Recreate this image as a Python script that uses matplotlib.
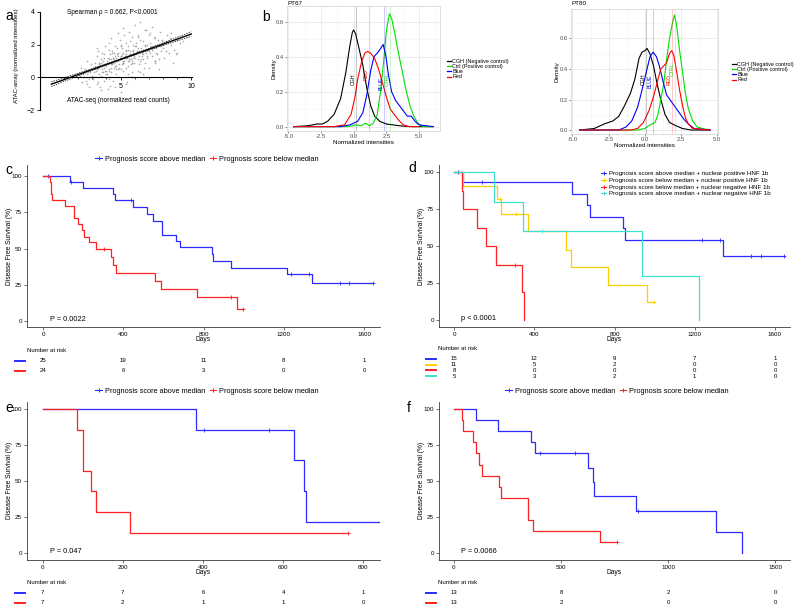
import numpy as np
import matplotlib
matplotlib.use('Agg')
import matplotlib.pyplot as plt
from matplotlib.lines import Line2D
from matplotlib.ticker import MultipleLocator, FixedLocator
import matplotlib.transforms as mtrans

plt.rcParams['font.family'] = ['Liberation Sans', 'DejaVu Sans']

# ---------------- data ----------------
# panel a: scatter (ATAC-seq vs ATAC-array)
sx = [2.1,2.3,2.5,2.6,2.8,2.9,2.4,2.7,2.2,2.95,2.55,2.85,2.65,2.35,2.75,
      3.1,3.2,3.3,3.4,3.5,3.6,3.7,3.8,3.9,3.15,3.25,3.35,3.45,3.55,3.65,3.75,3.85,3.95,3.05,3.3,3.5,3.7,3.9,3.2,3.6,3.4,3.8,3.1,3.45,3.75,
      4.0,4.1,4.2,4.3,4.4,4.5,4.6,4.7,4.8,4.9,4.05,4.15,4.25,4.35,4.45,4.55,4.65,4.75,4.85,4.95,4.1,4.3,4.5,4.7,4.9,4.2,4.4,4.6,4.8,4.0,4.35,4.55,4.75,4.15,4.65,4.25,4.85,4.45,4.05,4.95,
      5.0,5.1,5.2,5.3,5.4,5.5,5.6,5.7,5.8,5.9,5.05,5.15,5.25,5.35,5.45,5.55,5.65,5.75,5.85,5.95,5.1,5.3,5.5,5.7,5.9,5.2,5.4,5.6,5.8,5.0,5.35,5.55,5.75,5.15,5.65,5.25,5.85,5.45,5.05,5.95,
      6.0,6.1,6.2,6.3,6.4,6.5,6.6,6.7,6.8,6.9,6.05,6.15,6.25,6.35,6.45,6.55,6.65,6.75,6.85,6.95,6.1,6.3,6.5,6.7,6.9,6.2,6.4,6.6,6.8,6.45,
      7.0,7.1,7.2,7.3,7.4,7.5,7.6,7.7,7.8,7.9,7.05,7.25,7.45,7.65,7.85,7.15,7.35,7.55,7.75,7.95,
      8.0,8.2,8.4,8.6,8.8,9.0,9.2,8.1,8.5,8.9,8.3,8.7,
      3.3,3.6,3.9,4.1,4.3,4.6,4.8,5.0,5.2,5.4,5.6,5.8,6.0,6.2,6.4,6.6,6.8,7.0,7.2,7.4,
      4.2,4.4,4.6,4.8,5.0,5.2,5.4,5.6,5.8,6.0,4.3,4.7,5.1,5.5,5.9,6.3,6.7,7.1,7.5,7.9,
      2.6,3.0,3.4,3.8,4.2,4.6,5.0,5.4,5.8,6.2,6.6,7.0,7.4,7.8,8.2,8.6,9.0,9.4,3.6,4.4]
sy = [0.1,-0.3,0.5,0.2,-0.6,0.8,0.0,0.4,0.6,0.1,-0.2,0.3,1.0,0.2,-0.1,
      0.3,0.9,-0.4,0.6,0.2,1.1,0.5,-0.2,0.8,0.0,0.4,1.3,0.7,-0.6,0.3,1.0,0.6,0.2,-0.1,0.5,0.9,1.5,0.4,0.7,0.1,-0.3,1.2,0.6,0.8,0.3,
      0.7,1.2,0.4,0.9,1.6,0.6,1.0,0.2,1.3,0.8,1.0,0.5,1.4,0.8,-0.2,1.1,0.7,1.8,0.5,1.2,0.9,0.3,1.5,1.0,0.6,2.1,0.8,1.3,0.0,0.4,1.1,0.9,1.4,1.7,0.5,-0.5,1.0,1.2,0.2,2.3,
      1.1,0.8,1.5,1.2,0.6,1.9,1.0,1.4,0.9,1.6,1.3,0.4,1.0,1.7,1.2,0.7,2.2,1.1,1.5,0.9,1.8,1.3,0.2,1.6,2.0,0.9,1.4,1.1,2.5,0.5,1.2,1.7,0.8,1.0,1.4,2.6,1.2,-0.3,1.9,1.3,
      1.4,1.9,1.1,1.6,2.3,1.3,1.7,0.9,1.5,2.0,1.2,1.6,2.6,1.0,1.8,1.4,0.6,1.9,1.3,1.7,2.1,0.8,1.5,2.9,1.2,1.8,0.3,2.2,1.6,1.1,
      1.6,2.1,1.3,1.8,2.4,1.5,2.0,1.1,1.9,2.2,2.7,1.7,0.9,2.3,1.6,1.9,2.5,1.4,0.5,2.0,
      1.8,2.2,1.5,2.0,1.7,2.3,2.1,1.2,2.4,1.4,2.6,0.9,
      1.8,-0.8,1.9,-0.7,2.4,-0.6,2.7,-0.9,3.0,-0.4,2.8,0.0,3.2,0.4,3.4,0.2,2.9,0.6,3.1,1.0,
      1.1,0.9,0.7,1.5,1.3,0.9,1.6,1.3,1.0,1.9,0.6,1.2,1.4,1.0,1.7,1.3,2.0,1.5,1.8,2.3,
      -0.4,0.0,1.6,1.4,-0.1,1.9,2.0,2.1,0.3,2.5,1.1,2.6,1.0,2.8,1.6,2.7,1.5,2.2,0.9,1.5]
fit_x = [0.1, 10.0]
fit_y = [-0.42, 2.65]
ci_x = [0.1, 2.5, 5.0, 7.5, 10.0]
ci_hi = [-0.28, 0.39, 1.13, 1.94, 2.79]
ci_lo = [-0.56, 0.26, 1.07, 1.81, 2.51]

# panel b: densities
b_names = ['CGH (Negative control)', 'Ctrl (Positive control)', 'Blue', 'Red']
b_colors = ['black', '#00E000', '#0000FF', '#FF0000']
cgh67_x = [-4.6,-3.5,-2.8,-2.4,-2.0,-1.5,-1.0,-0.6,-0.3,-0.1,0.0,0.15,0.4,0.7,1.0,1.3,1.6,2.0,2.5,3.0,3.5,4.0,4.5,5.0,6.0]
cgh67_y = [0.0,0.005,0.015,0.015,0.03,0.07,0.16,0.31,0.46,0.54,0.553,0.53,0.45,0.35,0.22,0.12,0.06,0.03,0.015,0.01,0.005,0.002,0.0,0.0,0.0]
red67_x = [-4.6,-1.5,-0.7,-0.2,0.1,0.3,0.6,0.85,1.05,1.3,1.6,1.9,2.2,2.5,2.8,3.1,3.4,3.8,4.2,5.0]
red67_y = [0.0,0.0,0.01,0.07,0.17,0.27,0.37,0.42,0.43,0.42,0.39,0.33,0.25,0.17,0.10,0.07,0.04,0.01,0.0,0.0]
blue67_x = [-4.6,-1.0,-0.3,0.3,0.7,1.0,1.3,1.55,1.8,2.0,2.25,2.45,2.65,2.9,3.2,3.5,3.8,4.1,4.4,4.7,5.0,6.1]
blue67_y = [0.0,0.0,0.01,0.03,0.08,0.18,0.32,0.40,0.42,0.44,0.47,0.41,0.3,0.2,0.15,0.12,0.09,0.06,0.06,0.03,0.01,0.0]
ctrl67_x = [-4.6,-0.5,0.2,0.6,0.9,1.2,1.5,1.8,2.05,2.3,2.5,2.73,2.9,3.1,3.4,3.7,4.0,4.3,4.6,4.9,5.3,6.1]
ctrl67_y = [0.0,0.0,0.01,0.005,0.02,0.005,0.02,0.07,0.2,0.38,0.55,0.645,0.62,0.55,0.43,0.32,0.21,0.12,0.06,0.02,0.0,0.0]
vl67 = [0.15, 2.75, 2.3, 1.15]
lab67_y = [0.27, 0.27, 0.25, 0.3]

cgh80_x = [-4.5,-3.5,-2.8,-2.2,-1.8,-1.4,-1.0,-0.7,-0.4,-0.2,0.0,0.15,0.35,0.6,0.85,1.1,1.4,1.7,2.1,2.6,3.2,4.5]
cgh80_y = [0.0,0.01,0.04,0.06,0.09,0.16,0.24,0.33,0.47,0.51,0.52,0.535,0.5,0.42,0.3,0.2,0.1,0.05,0.03,0.01,0.0,0.0]
blue80_x = [-4.5,-1.8,-1.3,-0.9,-0.5,-0.2,0.1,0.35,0.57,0.8,1.0,1.25,1.5,1.8,2.1,2.4,2.7,3.0,3.4,4.5]
blue80_y = [0.0,0.0,0.02,0.06,0.15,0.26,0.38,0.48,0.51,0.48,0.42,0.32,0.23,0.19,0.15,0.11,0.07,0.04,0.01,0.0]
red80_x = [-4.5,-1.0,-0.5,-0.1,0.3,0.6,0.9,1.1,1.3,1.5,1.7,1.85,2.0,2.2,2.4,2.6,2.8,3.0,3.3,4.5]
red80_y = [0.0,0.0,0.01,0.05,0.13,0.22,0.33,0.4,0.42,0.44,0.5,0.52,0.49,0.38,0.26,0.16,0.08,0.04,0.01,0.0]
ctrl80_x = [-4.5,-1.5,-0.5,0.0,0.3,0.5,0.7,0.9,1.1,1.3,1.5,1.7,1.9,2.05,2.2,2.4,2.6,2.8,3.0,3.3,3.6,4.0,4.5]
ctrl80_y = [0.0,0.0,0.0,0.01,0.03,0.04,0.05,0.1,0.2,0.3,0.46,0.6,0.7,0.754,0.68,0.52,0.38,0.24,0.14,0.06,0.02,0.01,0.0]
vl80 = [0.05, 2.08, 0.57, 1.85]
lab80_y = [0.33, 0.4, 0.32, 0.33]
b_tags = ['CGH', 'CTRL', 'BLUE', 'RED']

# panel c
c_blue_t = [0, 134, 198, 347, 360, 447, 516, 546, 594, 662, 682, 843, 848, 936, 1217, 1341, 1645]
c_blue_s = [100, 95.8, 91.7, 87.5, 83.3, 78.6, 73.7, 68.8, 59.6, 55.0, 50.9, 46.2, 41.5, 36.9, 32.3, 25.9, 25.9]
c_blue_ct = [23, 140, 437, 1236, 1326, 1479, 1524, 1645]
c_blue_cs = [100, 95.8, 83.3, 32.3, 32.3, 25.9, 25.9, 25.9]
c_red_t = [0, 35, 42, 47, 110, 154, 174, 195, 204, 231, 264, 337, 347, 364, 560, 586, 769, 965, 995]
c_red_s = [100, 95.8, 87.5, 83.3, 79.2, 70.8, 66.7, 62.5, 58.3, 54.2, 50.0, 44.4, 38.9, 33.3, 27.8, 22.2, 16.7, 8.3, 8.3]
c_red_ct = [304, 936, 995]
c_red_cs = [50.0, 16.7, 8.3]
c_risk_t = [0, 400, 800, 1200, 1600]
c_risk = [[25, 19, 11, 8, 1], [24, 6, 3, 0, 0]]

# panel d
d_labels = ['Prognosis score above median + nuclear positive HNF 1b',
            'Prognosis score below median + nuclear positive HNF 1b',
            'Prognosis score below median + nuclear negative HNF 1b',
            'Prognosis score above median + nuclear negative HNF 1b']
d_colors = ['#2B2BFF', '#FFCC00', '#FF2020', '#40E0D0']
d_t = [[0, 43, 590, 665, 680, 844, 852, 1343, 1647],
       [0, 43, 213, 234, 367, 558, 585, 770, 964, 997],
       [0, 38, 47, 115, 160, 208, 339, 351],
       [0, 198, 346, 939, 1222]]
d_s = [[100, 93.3, 85.5, 77.7, 69.9, 62.1, 54.4, 43.5, 43.5],
       [100, 90.9, 81.8, 71.6, 60.0, 47.7, 35.7, 23.9, 11.9, 11.9],
       [100, 87.5, 75.0, 62.5, 50.0, 37.5, 18.75, 0],
       [100, 80, 60, 30, 0]]
d_ct = [[21, 141, 1235, 1326, 1481, 1529, 1647], [229, 309, 997], [304], [437]]
d_cs = [[100, 93.3, 54.4, 54.4, 43.5, 43.5, 43.5], [81.8, 71.6, 11.9], [37.5], [60]]
d_risk_t = [0, 400, 800, 1200, 1600]
d_risk = [[15, 12, 9, 7, 1], [11, 5, 2, 0, 0], [8, 0, 0, 0, 0], [5, 3, 2, 1, 0]]

# panel e
e_blue_t = [0, 383, 627, 652, 657, 860]
e_blue_s = [100, 85.7, 64.3, 42.9, 21.4, 21.4]
e_blue_ct = [403, 564]
e_blue_cs = [85.7, 85.7]
e_red_t = [0, 87, 100, 120, 133, 219, 762]
e_red_s = [100, 85.7, 57.1, 42.9, 28.6, 14.3, 14.3]
e_red_ct = [762]
e_red_cs = [14.3]
e_risk_t = [0, 200, 400, 600, 800]
e_risk = [[7, 7, 6, 4, 1], [7, 2, 1, 1, 0]]

# panel f
f_blue_t = [0, 103, 208, 361, 380, 627, 650, 656, 850, 1225, 1345]
f_blue_s = [100, 92.3, 84.6, 76.9, 69.2, 59.3, 49.4, 39.5, 29.6, 14.8, 0]
f_blue_ct = [403, 564, 858]
f_blue_cs = [69.2, 69.2, 29.6]
f_red_t = [0, 36, 44, 87, 102, 117, 133, 212, 220, 348, 369, 681, 762]
f_red_s = [100, 92.3, 84.6, 76.9, 69.2, 61.5, 53.8, 46.2, 38.5, 23.1, 15.4, 7.7, 7.7]
f_red_ct = [762]
f_red_cs = [7.7]
f_risk_t = [0, 500, 1000, 1500]
f_risk = [[13, 8, 2, 0], [13, 2, 0, 0]]

km_names = ['Prognosis score above median', 'Prognosis score below median']
BLUE = '#2B2BFF'
RED = '#FF2020'

# ---------------- figure ----------------
W, H = 796, 606
fig = plt.figure(figsize=(W/100, H/100), dpi=100)


def box(l, t, r, b):
    return fig.add_axes([l/W, 1-b/H, (r-l)/W, (b-t)/H])


def ftxt(x, y, s, **kw):
    fig.text(x/W, 1-y/H, s, **kw)


# ---- panel a ----
ax = box(40, 12, 192, 110)
ax.scatter(sx, sy, s=1.5, color='#8a8a8a', alpha=0.7, linewidths=0)
ax.plot(fit_x, fit_y, color='black', lw=1.0)
ax.plot(ci_x, ci_hi, color='black', lw=0.5, ls=(0, (2, 1.5)))
ax.plot(ci_x, ci_lo, color='black', lw=0.5, ls=(0, (2, 1.5)))
ax.set_xlim(-0.7, 10.05)
ax.set_ylim(-2, 4)
ax.spines['top'].set_visible(False)
ax.spines['right'].set_visible(False)
ax.spines['bottom'].set_position(('data', 0))
for s in ['left', 'bottom']:
    ax.spines[s].set_linewidth(0.8)
ax.set_xticks([5, 10])
ax.xaxis.set_minor_locator(FixedLocator([1, 2, 3, 4, 6, 7, 8, 9]))
ax.set_yticks([-2, 0, 2, 4])
ax.tick_params(labelsize=5, length=2.5, width=0.6, pad=1.5)
ax.tick_params(which='minor', length=1.5, width=0.5)
ftxt(112, 13, 'Spearman ρ = 0.662, P<0.0001', fontsize=4.7, ha='center', va='center')
ftxt(118, 100, 'ATAC-seq (normalized read counts)', fontsize=4.7, ha='center', va='center')
ftxt(17, 56, 'ATAC-array (normalized intensities)', fontsize=4.3, ha='center', va='center', rotation=90)
ftxt(5, 16, 'a', fontsize=10, ha='left', va='center')


# ---- panel b ----
def density_panel(l, t, r, b, xlim, ylim, curves, vls, laby, title, lx, ly, ylab_x):
    ax = box(l, t, r, b)
    handles = []
    for (xs, ys), c, name in zip(curves, b_colors, b_names):
        ax.plot(xs, ys, color=c, lw=0.8)
        handles.append(Line2D([], [], color=c, lw=0.9))
    for v, c, tag, yy in zip(vls, b_colors, b_tags, laby):
        ax.axvline(v, color=c, lw=0.5, alpha=0.3)
        ax.text(v - 0.18, yy, tag, rotation=90, color=c, fontsize=3.8, ha='center', va='center')
    ax.set_xlim(*xlim)
    ax.set_ylim(*ylim)
    ax.set_xticks([-5, -2.5, 0, 2.5, 5])
    ax.set_xticklabels(['-5.0', '-2.5', '0.0', '2.5', '5.0'])
    ax.set_yticks([0, 0.2, 0.4, 0.6])
    ax.set_yticklabels(['0.0', '0.2', '0.4', '0.6'])
    ax.xaxis.set_minor_locator(MultipleLocator(1.25))
    ax.yaxis.set_minor_locator(MultipleLocator(0.1))
    ax.grid(True, which='major', color='#E6E6E6', lw=0.5)
    ax.grid(True, which='minor', color='#F3F3F3', lw=0.4)
    ax.set_axisbelow(True)
    for s in ax.spines.values():
        s.set_color('#D0D0D0')
        s.set_linewidth(0.5)
    ax.tick_params(labelsize=4.2, labelcolor='#4D4D4D', length=1.5, width=0.4, color='#333333', pad=1)
    ax.tick_params(which='minor', length=0)
    ftxt(l, 3.5, title, fontsize=4.5, ha='left', va='center')
    ftxt((l + r) / 2, b + 11, 'Normalized intensities', fontsize=4.5, ha='center', va='center')
    ftxt(ylab_x, (t + b) / 2, 'Density', fontsize=4.5, ha='center', va='center', rotation=90)
    ax.legend(handles, b_names, loc='center left', bbox_to_anchor=(lx/W, 1-ly/H),
              bbox_transform=fig.transFigure, fontsize=3.9, frameon=False,
              handlelength=0.7, handletextpad=0.3, labelspacing=0.05, borderpad=0)
    return ax


density_panel(287, 6, 440, 131, (-5.1, 6.6), (-0.025, 0.69),
              [(cgh67_x, cgh67_y), (ctrl67_x, ctrl67_y), (blue67_x, blue67_y), (red67_x, red67_y)],
              vl67, lab67_y, 'PT67', 444, 69, 274)
density_panel(571, 9, 718, 134, (-5.1, 5.05), (-0.026, 0.793),
              [(cgh80_x, cgh80_y), (ctrl80_x, ctrl80_y), (blue80_x, blue80_y), (red80_x, red80_y)],
              vl80, lab80_y, 'PT80', 729, 72, 557)
ftxt(262, 17, 'b', fontsize=10, ha='left', va='center')


# ---- KM panels ----
def km_axes(l, t, r, b, xlim, ylim, xticks):
    ax = box(l, t, r, b)
    ax.set_xlim(*xlim)
    ax.set_ylim(*ylim)
    ax.spines['top'].set_visible(False)
    ax.spines['right'].set_visible(False)
    for s in ['left', 'bottom']:
        ax.spines[s].set_color('#3a3a3a')
        ax.spines[s].set_linewidth(0.6)
    ax.set_yticks([0, 25, 50, 75, 100])
    ax.set_xticks(xticks)
    ax.tick_params(labelsize=4.5, length=2, width=0.5, pad=1.5, color='#3a3a3a')
    return ax


def km(ax, t, s, ct, cs, color):
    ax.step(t, s, where='post', color=color, lw=0.9)
    ax.plot(ct, cs, ls='none', marker='+', ms=3.2, mew=0.6, color=color)


def risk(ax, title_y, row_ys, xt, rows, colors, title_x, dash):
    ftxt(title_x, title_y, 'Number at risk', fontsize=4.3, ha='left', va='center')
    tr = mtrans.blended_transform_factory(ax.transData, fig.transFigure)
    for y, vals, c in zip(row_ys, rows, colors):
        fig.add_artist(Line2D([dash[0]/W, dash[1]/W], [1-y/H, 1-y/H], color=c, lw=1.4))
        for xv, v in zip(xt, vals):
            ax.text(xv, 1-y/H, str(v), transform=tr, fontsize=4.3, ha='center', va='center', clip_on=False)


def km_legend(ax, cx, cy):
    hs = [Line2D([], [], color=BLUE, marker='+', lw=0.8, ms=3.5, mew=0.7),
          Line2D([], [], color=RED, marker='+', lw=0.8, ms=3.5, mew=0.7)]
    ax.legend(hs, km_names, loc='center', bbox_to_anchor=(cx/W, 1-cy/H), bbox_transform=fig.transFigure,
              ncol=2, fontsize=5.3, frameon=False, handlelength=0.9, handletextpad=0.4,
              columnspacing=0.6, borderpad=0)


# panel c
ax = km_axes(27, 165, 380, 327, (-80, 1679), (-4.1, 107.6), c_risk_t)
km(ax, c_blue_t, c_blue_s, c_blue_ct, c_blue_cs, BLUE)
km(ax, c_red_t, c_red_s, c_red_ct, c_red_cs, RED)
ax.text(35, 1, 'P = 0.0022', fontsize=5.3, ha='left', va='center')
km_legend(ax, 207, 159)
risk(ax, 350, [361, 371], c_risk_t, c_risk, [BLUE, RED], 27, (15, 25))
ftxt(203, 339, 'Days', fontsize=4.8, ha='center', va='center')
ftxt(10, 246, 'Disease Free Survival (%)', fontsize=4.8, ha='center', va='center', rotation=90)
ftxt(5, 170, 'c', fontsize=10, ha='left', va='center')

# panel d
ax = km_axes(439, 165, 790, 327, (-75, 1675), (-4.7, 104.9), d_risk_t)
for t, s, ct, cs, c in zip(d_t, d_s, d_ct, d_cs, d_colors):
    km(ax, t, s, ct, cs, c)
ax.text(35, 1, 'p < 0.0001', fontsize=5.3, ha='left', va='center')
hs = [Line2D([], [], color=c, marker='+', lw=0.8, ms=3.2, mew=0.7) for c in d_colors]
ax.legend(hs, d_labels, loc='upper left', bbox_to_anchor=(598/W, 1-168/H), bbox_transform=fig.transFigure,
          fontsize=4.5, frameon=False, handlelength=0.8, handletextpad=0.4, labelspacing=0.2, borderpad=0)
risk(ax, 349, [359, 364.5, 370, 376], d_risk_t, d_risk, d_colors, 438, (426, 436))
ftxt(614, 339, 'Days', fontsize=4.8, ha='center', va='center')
ftxt(421, 246, 'Disease Free Survival (%)', fontsize=4.8, ha='center', va='center', rotation=90)
ftxt(408, 168, 'd', fontsize=10, ha='left', va='center')

# panel e
ax = km_axes(27, 402, 380, 560, (-39, 842), (-4.6, 104.8), e_risk_t)
km(ax, e_blue_t, e_blue_s, e_blue_ct, e_blue_cs, BLUE)
km(ax, e_red_t, e_red_s, e_red_ct, e_red_cs, RED)
ax.text(18, 1, 'P = 0.047', fontsize=5.3, ha='left', va='center')
km_legend(ax, 207, 391)
risk(ax, 583, [593, 603], e_risk_t, e_risk, [BLUE, RED], 27, (15, 25))
ftxt(203, 573, 'Days', fontsize=4.8, ha='center', va='center')
ftxt(10, 480, 'Disease Free Survival (%)', fontsize=4.8, ha='center', va='center', rotation=90)
ftxt(5, 408, 'e', fontsize=10, ha='left', va='center')

# panel f
ax = km_axes(439, 402, 790, 560, (-70, 1570), (-4.6, 104.8), f_risk_t)
km(ax, f_blue_t, f_blue_s, f_blue_ct, f_blue_cs, BLUE)
km(ax, f_red_t, f_red_s, f_red_ct, f_red_cs, RED)
ax.text(33, 1, 'P = 0.0066', fontsize=5.3, ha='left', va='center')
km_legend(ax, 617, 391)
risk(ax, 583, [593, 603], f_risk_t, f_risk, [BLUE, RED], 438, (426, 436))
ftxt(614, 573, 'Days', fontsize=4.8, ha='center', va='center')
ftxt(421, 480, 'Disease Free Survival (%)', fontsize=4.8, ha='center', va='center', rotation=90)
ftxt(407, 408, 'f', fontsize=10, ha='left', va='center')

fig.savefig('out.png', dpi=100)
